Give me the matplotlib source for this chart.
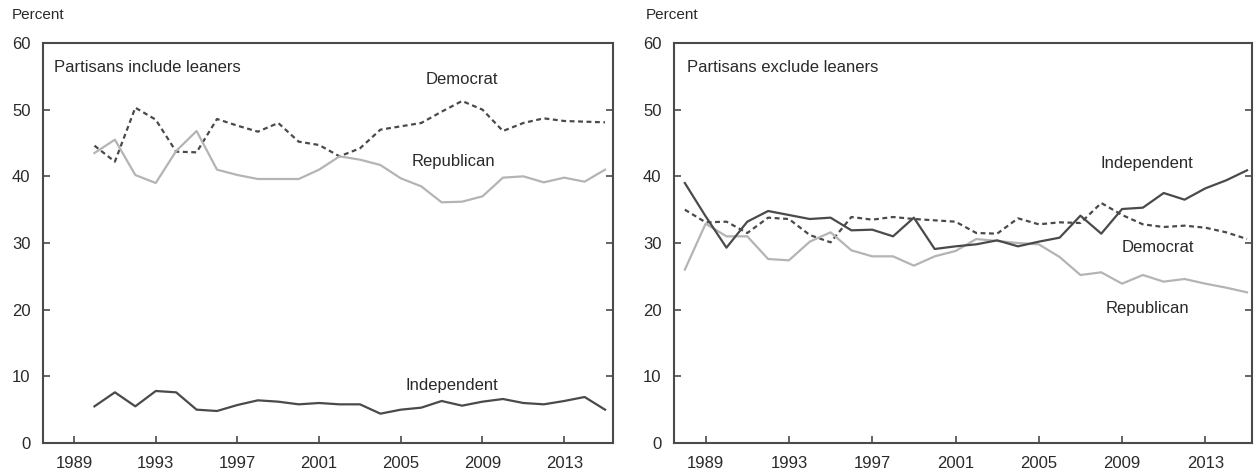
import numpy as np
import matplotlib.pyplot as plt

plt.rcParams['font.family'] = ['Liberation Sans', 'DejaVu Sans']

# Left panel: partisans include leaners (1990-2015)
years_inc = list(range(1990, 2016))
dem_inc = [44.6, 42.2, 50.3, 48.5, 43.7, 43.6, 48.6, 47.6, 46.7, 48.0, 45.2, 44.7, 43.0,
           44.2, 47.0, 47.5, 48.0, 49.7, 51.3, 50.0, 46.8, 48.0, 48.7, 48.3, 48.2, 48.1]
rep_inc = [43.5, 45.5, 40.2, 39.0, 43.8, 46.8, 41.0, 40.2, 39.6, 39.6, 39.6, 41.0, 43.0,
           42.5, 41.7, 39.7, 38.5, 36.1, 36.2, 37.0, 39.8, 40.0, 39.1, 39.8, 39.2, 41.0]
ind_inc = [5.5, 7.6, 5.5, 7.8, 7.6, 5.0, 4.8, 5.7, 6.4, 6.2, 5.8, 6.0, 5.8,
           5.8, 4.4, 5.0, 5.3, 6.3, 5.6, 6.2, 6.6, 6.0, 5.8, 6.3, 6.9, 5.0]

# Right panel: partisans exclude leaners (1988-2015)
years_exc = list(range(1988, 2016))
ind_exc = [39.0, 34.0, 29.3, 33.2, 34.8, 34.2, 33.6, 33.8, 31.9, 32.0, 31.0, 33.8, 29.1, 29.5,
           29.8, 30.4, 29.5, 30.2, 30.8, 34.1, 31.4, 35.1, 35.3, 37.5, 36.5, 38.2, 39.4, 40.9]
dem_exc = [35.0, 33.1, 33.2, 31.5, 33.8, 33.6, 31.2, 30.1, 33.9, 33.5, 33.9, 33.6, 33.4, 33.2,
           31.5, 31.4, 33.7, 32.8, 33.1, 33.0, 36.0, 34.2, 32.8, 32.4, 32.6, 32.3, 31.6, 30.6]
rep_exc = [26.0, 32.9, 31.0, 31.0, 27.6, 27.4, 30.2, 31.6, 28.9, 28.0, 28.0, 26.6, 28.0, 28.8,
           30.6, 30.3, 30.0, 29.8, 27.9, 25.2, 25.6, 23.9, 25.2, 24.2, 24.6, 23.9, 23.3, 22.6]

xticks = [1989, 1993, 1997, 2001, 2005, 2009, 2013]
yticks = [0, 10, 20, 30, 40, 50, 60]

dark = '#4a4a4a'
light = '#b4b4b4'
text_col = '#2a2a2a'

fig = plt.figure(figsize=(12.57, 4.75), dpi=100)
ax1 = fig.add_axes([43 / 1257, 32 / 475, 570 / 1257, 400 / 475])
ax2 = fig.add_axes([674 / 1257, 32 / 475, 578 / 1257, 400 / 475])


def style(ax, xlim):
    ax.set_xlim(*xlim)
    ax.set_ylim(0, 60)
    ax.set_xticks(xticks)
    ax.set_yticks(yticks)
    ax.tick_params(axis='both', direction='in', length=5, width=1.2, color=dark,
                   labelsize=12, labelcolor=text_col)
    ax.tick_params(axis='y', right=True, pad=9)
    ax.tick_params(axis='x', pad=9)
    for s in ax.spines.values():
        s.set_color(dark)
        s.set_linewidth(1.5)


dash = (0, (2.2, 1.6))

ax1.plot(years_inc, dem_inc, color=dark, lw=1.6, linestyle=dash)
ax1.plot(years_inc, rep_inc, color=light, lw=1.6)
ax1.plot(years_inc, ind_inc, color=dark, lw=1.6)
style(ax1, (1987.48, 2015.39))
ax1.text(1988.0, 56.4, 'Partisans include leaners', fontsize=12, color=text_col, va='center')
ax1.text(2008.0, 54.6, 'Democrat', fontsize=12, color=text_col, ha='center', va='center')
ax1.text(2007.6, 42.3, 'Republican', fontsize=12, color=text_col, ha='center', va='center')
ax1.text(2007.5, 8.6, 'Independent', fontsize=12, color=text_col, ha='center', va='center')

ax2.plot(years_exc, dem_exc, color=dark, lw=1.6, linestyle=dash)
ax2.plot(years_exc, rep_exc, color=light, lw=1.6)
ax2.plot(years_exc, ind_exc, color=dark, lw=1.6)
style(ax2, (1987.48, 2015.24))
ax2.text(1988.1, 56.4, 'Partisans exclude leaners', fontsize=12, color=text_col, va='center')
ax2.text(2010.2, 42.0, 'Independent', fontsize=12, color=text_col, ha='center', va='center')
ax2.text(2010.7, 29.3, 'Democrat', fontsize=12, color=text_col, ha='center', va='center')
ax2.text(2010.2, 20.1, 'Republican', fontsize=12, color=text_col, ha='center', va='center')

fig.text(12 / 1257, 1 - 15 / 475, 'Percent', fontsize=11, color=text_col, va='center')
fig.text(646 / 1257, 1 - 15 / 475, 'Percent', fontsize=11, color=text_col, va='center')

fig.savefig('out.png', dpi=100)
